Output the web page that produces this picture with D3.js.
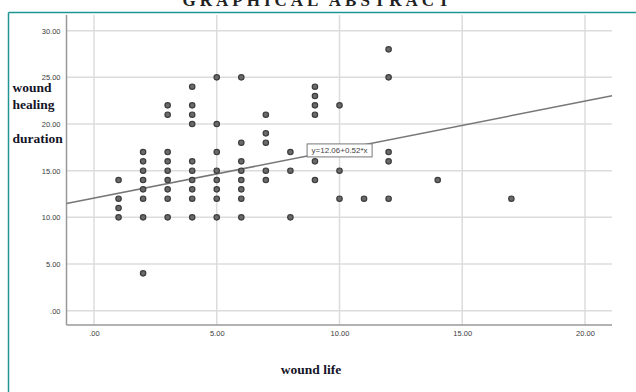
<!DOCTYPE html>
<html>
<head>
<meta charset="utf-8">
<script src="https://cdn.jsdelivr.net/npm/d3@7"></script>
<style>
  body { margin: 0; background: #fff; }
  svg { display: block; }
</style>
</head>
<body>
<div id="chart"></div>
<script>
// wound life (x) and wound healing duration (y)
var woundLife = [1,1,1,1, 2,2,2,2,2,2,2,2, 3,3,3,3,3,3,3,3,3, 4,4,4,4,4,4,4,4,4,4,
  5,5,5,5,5,5,5,5, 6,6,6,6,6,6,6,6, 7,7,7,7,7, 8,8,8, 9,9,9,9,9,9, 10,10,10, 11, 12,12,12,12,12, 14, 17]
var healing = [14,12,11,10, 17,16,15,14,13,12,10,4, 22,21,17,16,15,14,13,12,10, 24,22,21,20,16,15,14,13,12,10,
  25,20,17,15,14,13,12,10, 25,18,16,15,14,13,12,10, 21,19,18,15,14, 17,15,10, 24,23,22,21,16,14, 22,15,12, 12, 28,25,17,16,12, 14, 12]
var xTicks = [0, 5, 10, 15, 20]
var yTicks = [0, 5, 10, 15, 20, 25, 30]
var intercept = 12.06, slope = 0.52
var fitLabel = "y=12.06+0.52*x"

var W = 636, H = 392
var plot = {left: 66.5, right: 612, top: 15, bottom: 325}

var svg = d3.select("#chart").append("svg")
  .attr("width", W).attr("height", H)

// frame of the abstract (only top & left edge fall inside the picture)
svg.append("line").attr("x1", 8.5).attr("x2", W).attr("y1", 12.5).attr("y2", 12.5)
  .style("stroke", "#1f9693").style("stroke-width", 1.5)
svg.append("line").attr("x1", 8.5).attr("x2", 8.5).attr("y1", 12.5).attr("y2", H)
  .style("stroke", "#1f9693").style("stroke-width", 1.5)

// title, cut off by the top edge
svg.append("text").attr("x", 318).attr("y", 5.5)
  .attr("text-anchor", "middle")
  .style("font-family", "Liberation Serif, serif").style("font-weight", "bold")
  .style("font-size", "17px").style("letter-spacing", "4px").style("fill", "#222")
  .text("GRAPHICAL ABSTRACT")

var x = d3.scaleLinear().domain([0, 20]).range([94, 585])
var y = d3.scaleLinear().domain([0, 30]).range([310.7, 30.7])
var fmt = function(v) { return v === 0 ? ".00" : d3.format(".2f")(v) }

// grid
svg.selectAll(".vgrid").data(xTicks).enter().append("line")
  .attr("x1", function(d) { return x(d) }).attr("x2", function(d) { return x(d) })
  .attr("y1", plot.top).attr("y2", plot.bottom)
  .style("stroke", "#dcdcdc").style("stroke-width", 1.5)
svg.selectAll(".hgrid").data(yTicks).enter().append("line")
  .attr("x1", plot.left).attr("x2", plot.right)
  .attr("y1", function(d) { return y(d) }).attr("y2", function(d) { return y(d) })
  .style("stroke", "#dcdcdc").style("stroke-width", 1.5)

// axes
var xAxis = svg.append("g").attr("transform", "translate(0," + plot.bottom + ")")
  .call(d3.axisBottom(x).tickValues(xTicks).tickSize(0).tickPadding(6).tickFormat(fmt))
var yAxis = svg.append("g").attr("transform", "translate(" + plot.left + ",0)")
  .call(d3.axisLeft(y).tickValues(yTicks).tickSize(0).tickPadding(6).tickFormat(fmt))
;[xAxis, yAxis].forEach(function(a) {
  a.select(".domain").remove()
  a.selectAll("text").style("font-family", "Liberation Sans, Arial, sans-serif")
    .style("font-size", "7.5px").style("fill", "#3a3a3a")
})
svg.append("line").attr("x1", plot.left).attr("x2", plot.left).attr("y1", plot.top).attr("y2", plot.bottom)
  .style("stroke", "#999").style("stroke-width", 1.5)
svg.append("line").attr("x1", plot.left).attr("x2", plot.right).attr("y1", plot.bottom).attr("y2", plot.bottom)
  .style("stroke", "#999").style("stroke-width", 1.5)

// fit line across the plot area
var x0 = x.invert(plot.left), x1 = x.invert(plot.right)
svg.append("line")
  .attr("x1", x(x0)).attr("y1", y(intercept + slope * x0))
  .attr("x2", x(x1)).attr("y2", y(intercept + slope * x1))
  .style("stroke", "#777").style("stroke-width", 1.5)

// points
svg.selectAll(".dot").data(woundLife).enter().append("circle")
  .attr("cx", function(d) { return x(d) })
  .attr("cy", function(d, i) { return y(healing[i]) })
  .attr("r", 2.7)
  .style("fill", "#6a6a6a").style("stroke", "#3c3c3c").style("stroke-width", 1.2)

// fit label box
var lx = x(8.68), ly = y(17.87)
svg.append("rect").attr("x", lx).attr("y", ly).attr("width", 65).attr("height", 13)
  .style("fill", "#fff").style("stroke", "#777").style("stroke-width", 1)
svg.append("text").attr("x", lx + 32.5).attr("y", ly + 9.5).attr("text-anchor", "middle")
  .style("font-family", "Liberation Sans, Arial, sans-serif").style("font-size", "8px").style("fill", "#444")
  .text(fitLabel)

// axis titles
var serif = function(t) {
  return t.style("font-family", "Liberation Serif, Times New Roman, serif")
    .style("font-weight", "bold").style("font-size", "13.5px").style("fill", "#141428")
}
serif(svg.append("text").attr("x", 12.5).attr("y", 92).text("wound"))
serif(svg.append("text").attr("x", 12.5).attr("y", 109).text("healing"))
serif(svg.append("text").attr("x", 12.5).attr("y", 143).text("duration"))
serif(svg.append("text").attr("x", 311).attr("y", 374).attr("text-anchor", "middle").text("wound life"))
</script>
</body>
</html>
